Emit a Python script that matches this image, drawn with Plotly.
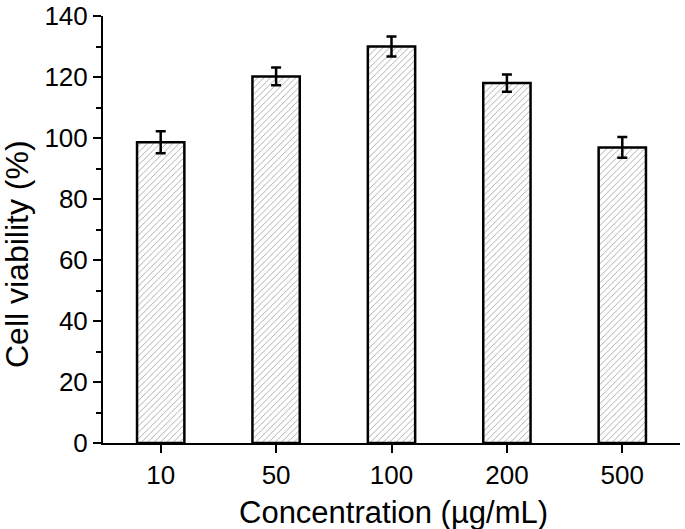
import plotly.graph_objects as go

categories = ["10", "50", "100", "200", "500"]
viability = [98.6, 120.2, 130.0, 118.0, 96.9]
errors = [3.6, 2.9, 3.3, 2.8, 3.4]
y_ticks = [0, 20, 40, 60, 80, 100, 120, 140]

W, H = 685, 529
L, R, T, B = 103, 5, 16, 86
pw = W - L - R
ph = H - T - B


def px_x(sx):
    return (sx - L) / pw


def px_y(sy):
    return (H - sy - B) / ph


fig = go.Figure()
fig.add_trace(go.Bar(
    x=categories, y=viability,
    width=0.41,
    marker=dict(color="white",
                line=dict(color="black", width=2.5),
                pattern=dict(shape="/", fgcolor="#3a3a3a", bgcolor="white", size=4.5, solidity=0.18)),
    error_y=dict(type="data", array=errors, color="black", thickness=2.5, width=5, visible=True),
))

font = "Liberation Sans, Arial, sans-serif"
fig.update_layout(
    width=W, height=H,
    margin=dict(l=L, r=R, t=T, b=B),
    paper_bgcolor="white", plot_bgcolor="white",
    showlegend=False,
    font=dict(family=font, color="black", size=26),
    xaxis=dict(type="category", range=[-0.5, 4.5], showline=True, linecolor="black", linewidth=2,
               ticks="outside", ticklen=8, tickwidth=2, tickcolor="black", automargin=False,
               ticklabeloverflow="allow",
               tickfont=dict(size=26), showgrid=False, zeroline=False),
    yaxis=dict(range=[0, 140], tickvals=y_ticks, showline=True, linecolor="black", linewidth=2,
               ticks="outside", ticklen=8, tickwidth=2, tickcolor="black", automargin=False,
               ticklabeloverflow="allow",
               minor=dict(dtick=10, ticks="outside", ticklen=5, tickwidth=2, tickcolor="black", showgrid=False),
               tickfont=dict(size=26), showgrid=False, zeroline=False),
    annotations=[
        dict(text="Concentration (µg/mL)", xref="paper", yref="paper",
             x=px_x(393), y=px_y(512), xanchor="center", yanchor="middle",
             showarrow=False, font=dict(size=31, family=font)),
        dict(text="Cell viability (%)", xref="paper", yref="paper", textangle=-90,
             x=px_x(17), y=px_y(254), xanchor="center", yanchor="middle",
             showarrow=False, font=dict(size=32, family=font)),
    ],
)

fig.write_html("out.html",
               config={"displayModeBar": False},
               post_script="document.body.style.margin='0';document.body.style.overflow='hidden';")
